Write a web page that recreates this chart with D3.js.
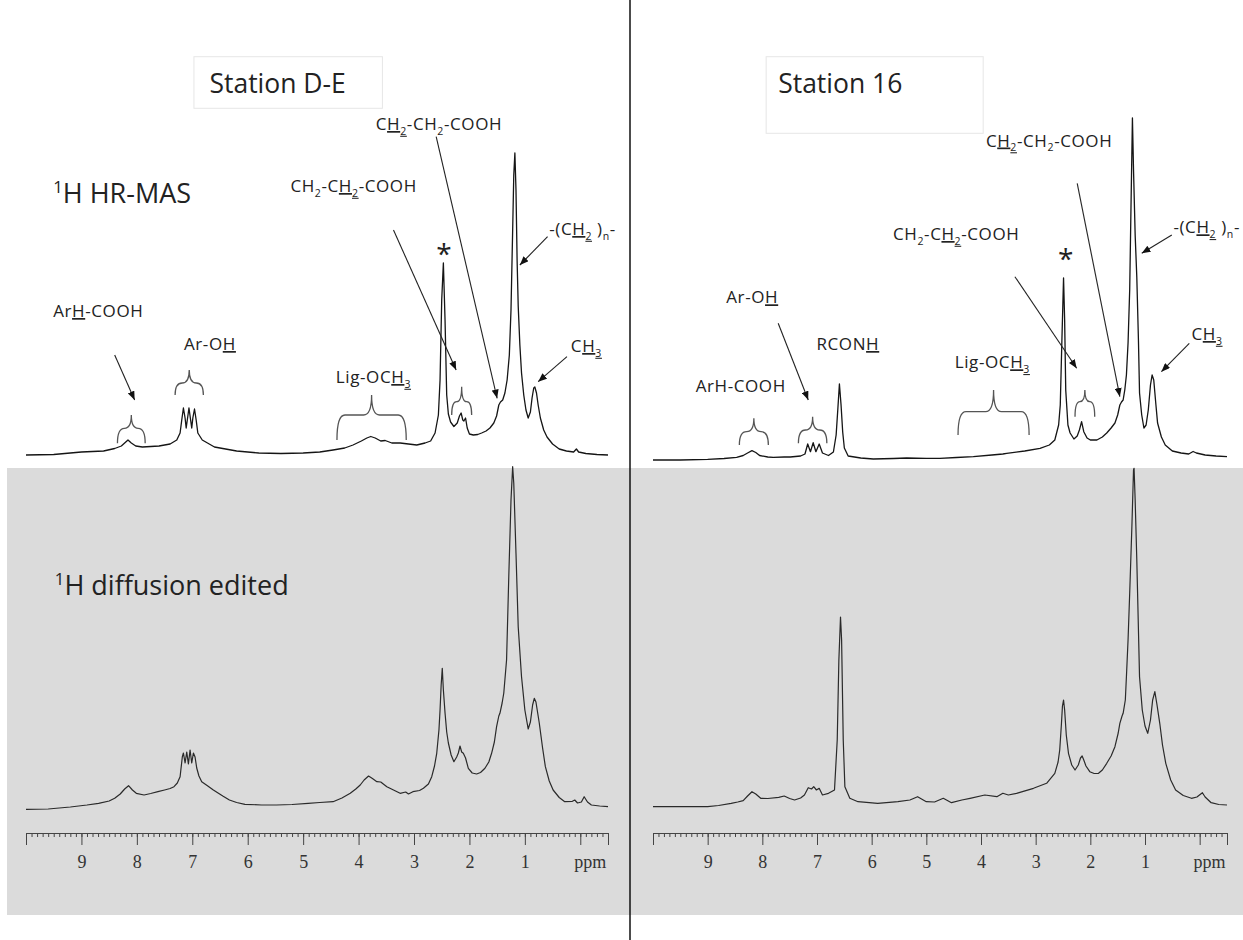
<!DOCTYPE html>
<html><head><meta charset="utf-8">
<script src="https://cdn.jsdelivr.net/npm/d3@7"></script>
<style>body{margin:0;background:#fff}svg{display:block}</style>
</head><body>
<svg id="chart" width="1243" height="940"></svg>
<script>
// ---------- DATA (ppm, intensity a.u.) ----------
const ppmTicks = [9,8,7,6,5,4,3,2,1];
const stations = ["Station D-E","Station 16"];
const rowLabels = ["^1^H HR-MAS","^1^H diffusion edited"];

const hrmasDE = [[10.0,1],[9.5,1.5],[9.0,4],[8.6,5],[8.4,7.5],[8.28,10],[8.2,14],[8.16,16],[8.1,13],[8.02,10],[7.9,9],[7.6,10],[7.4,12],[7.28,16],[7.22,23],[7.19,36],[7.16,48],[7.13,38],[7.11,28],[7.08,40],[7.06,48],[7.04,40],[7.01,28],[6.99,38],[6.96,47],[6.93,36],[6.9,23],[6.82,16],[6.6,9],[6.2,5],[5.8,3],[5.4,2.5],[5.0,3],[4.7,4],[4.46,6],[4.25,8],[4.1,11],[3.95,15],[3.85,18],[3.78,19.5],[3.7,18],[3.6,15],[3.52,15.5],[3.4,13],[3.25,13],[3.1,12],[2.95,11],[2.8,13],[2.7,15],[2.62,23],[2.56,41],[2.53,76],[2.5,156],[2.47,193],[2.44,136],[2.41,61],[2.38,42],[2.34,34],[2.28,29.5],[2.22,33],[2.18,40],[2.15,43],[2.12,36],[2.1,35],[2.07,38],[2.04,28],[2.0,22],[1.93,21],[1.85,21.5],[1.78,23],[1.7,25],[1.63,28],[1.56,33],[1.51,40],[1.47,51],[1.44,54],[1.4,56],[1.36,63],[1.32,76],[1.28,101],[1.25,146],[1.22,226],[1.2,281],[1.18,303],[1.16,266],[1.14,196],[1.12,150],[1.09,111],[1.06,83],[1.02,61],[0.98,46],[0.94,38],[0.9,44],[0.87,58],[0.84,68],[0.82,69],[0.79,63],[0.76,51],[0.72,38],[0.66,26],[0.6,19],[0.5,12],[0.38,7],[0.25,5],[0.12,4],[0.07,7],[0.03,4],[-0.1,2.5],[-0.3,1.5],[-0.5,1]];

const hrmas16 = [[10.0,1],[9.5,1],[9.0,1.7],[8.7,2.5],[8.47,3.7],[8.35,5.5],[8.27,8],[8.19,10.3],[8.12,8.5],[8.05,5.5],[7.9,4],[7.8,3.7],[7.6,4],[7.49,4],[7.3,5],[7.22,7],[7.17,17],[7.12,9.3],[7.07,18.3],[7.02,9.3],[6.96,17],[6.9,8],[6.79,5.5],[6.7,9],[6.65,26],[6.62,51],[6.59,77],[6.56,56],[6.53,29],[6.5,13],[6.43,5],[6.2,3],[5.97,2],[5.6,2.5],[5.36,3],[5.0,2.7],[4.75,2.7],[4.45,3.5],[4.14,4.3],[3.8,6],[3.6,7],[3.53,7.7],[3.2,10],[2.92,12.7],[2.75,16],[2.65,21],[2.58,36],[2.55,56],[2.52,121],[2.49,183],[2.47,141],[2.45,71],[2.41,36],[2.37,28],[2.3,22],[2.24,25],[2.2,31],[2.16,39.3],[2.12,29.3],[2.06,23],[2.0,21],[1.88,21],[1.78,24],[1.7,28],[1.62,33],[1.55,38],[1.5,46],[1.46,56],[1.43,59],[1.4,61],[1.37,71],[1.34,86],[1.31,118],[1.28,171],[1.26,241],[1.23,343],[1.21,291],[1.18,226],[1.15,184],[1.12,121],[1.1,68],[1.06,46],[1.02,33],[0.98,36],[0.94,51],[0.9,76],[0.87,86],[0.84,81],[0.8,56],[0.77,38],[0.7,24],[0.63,16],[0.5,10],[0.34,8],[0.2,7],[0.12,9.5],[0.06,8],[-0.1,6],[-0.3,5],[-0.5,4.3]];

const diffDE = [[10.0,0.7],[9.6,1],[9.2,3],[8.9,5],[8.69,6.7],[8.5,9],[8.4,11.7],[8.3,16],[8.22,21],[8.15,24.3],[8.08,20],[8.01,16.7],[7.87,15],[7.75,16.5],[7.62,18.3],[7.5,20],[7.4,21.5],[7.33,23.3],[7.27,27],[7.22,33.3],[7.18,53],[7.16,57],[7.13,47],[7.1,58],[7.07,46],[7.04,60],[7.01,47],[6.98,57],[6.95,53],[6.92,42],[6.88,34],[6.83,28.3],[6.72,24],[6.62,20],[6.45,14],[6.33,10],[6.2,7.5],[6.05,5.7],[5.75,5],[5.48,5],[5.2,5.5],[4.91,6.7],[4.7,7.5],[4.46,8.3],[4.3,12],[4.15,16.7],[4.05,21],[3.97,25],[3.9,30],[3.82,34],[3.75,31.5],[3.67,28.3],[3.6,28],[3.49,23.3],[3.37,20],[3.25,16.7],[3.15,18],[3.1,16],[3.02,18.3],[2.9,19.5],[2.83,21.7],[2.74,26],[2.68,33.3],[2.63,44],[2.59,56.7],[2.55,80],[2.53,100],[2.51,125],[2.49,141.7],[2.47,120],[2.44,97],[2.41,78],[2.38,67],[2.33,55],[2.28,48.3],[2.23,53],[2.2,57],[2.17,64],[2.14,58],[2.11,56.7],[2.07,52],[2.02,41.7],[1.95,37],[1.87,36],[1.8,37.5],[1.72,41.7],[1.65,48],[1.6,56.7],[1.55,68],[1.51,83.3],[1.47,94],[1.45,96.7],[1.41,107],[1.38,117],[1.33,150],[1.29,233.3],[1.25,310],[1.22,343.3],[1.2,326.7],[1.16,256.7],[1.12,183.3],[1.06,133.3],[1.0,100],[0.94,81],[0.9,88],[0.86,105],[0.83,111.7],[0.8,108],[0.74,87],[0.68,62],[0.63,43.3],[0.56,29],[0.49,20],[0.38,12.5],[0.28,8.3],[0.15,8.5],[0.1,10],[0.05,7],[-0.02,8],[-0.07,13.3],[-0.13,8],[-0.2,5],[-0.35,4],[-0.5,3.3]];

const diff16 = [[10.0,1.3],[9.0,1.3],[8.8,2.5],[8.57,4.7],[8.45,6],[8.35,7.3],[8.27,12],[8.19,16.3],[8.12,14],[8.03,9.7],[7.9,9.5],[7.7,10.7],[7.6,12],[7.5,9.5],[7.41,8],[7.3,10],[7.23,13],[7.16,20.3],[7.1,19],[7.06,21.3],[7.01,18],[6.96,19.7],[6.9,13],[6.79,14.7],[6.68,18],[6.63,68],[6.6,148],[6.57,191],[6.55,168],[6.52,68],[6.49,21.3],[6.4,9.7],[6.25,6.3],[5.89,4.7],[5.52,6.3],[5.3,8],[5.16,11.3],[5.0,6.3],[4.85,6],[4.69,9.7],[4.54,5.3],[4.35,8],[4.2,9.7],[3.93,13],[3.71,11.3],[3.6,14.7],[3.5,13],[3.35,14.7],[3.04,19.7],[2.8,24.7],[2.65,34.7],[2.59,46],[2.56,58],[2.53,83],[2.51,102],[2.49,108],[2.47,98],[2.44,73],[2.4,54.7],[2.34,43],[2.28,38],[2.22,43],[2.18,50],[2.15,52],[2.12,48],[2.08,42],[2.01,36.3],[1.93,34.5],[1.85,34.7],[1.78,38],[1.7,44.7],[1.62,52],[1.55,61.3],[1.49,75],[1.46,84.7],[1.42,92],[1.4,94.7],[1.36,108],[1.34,131.3],[1.31,168],[1.28,214.7],[1.24,281.3],[1.21,338],[1.2,339.7],[1.18,308],[1.15,248],[1.12,178],[1.1,131.3],[1.05,98],[1.0,82],[0.95,74.7],[0.9,88],[0.86,108],[0.82,116.3],[0.78,103],[0.73,84.7],[0.68,63],[0.62,44.7],[0.53,28],[0.44,18],[0.3,12.5],[0.15,9.7],[0.05,11],[-0.02,14],[-0.05,15.3],[-0.1,11],[-0.21,5.3],[-0.35,3.5],[-0.5,3]];

// annotations in data units (ppm, a.u.)
const labelsDE = [
  ["C_H~2~_-CH~2~-COOH",3.69,326],["CH~2~-C_H~2~_-COOH",5.23,264],["-(C_H~2~_ )~n~-",0.56,221],
  ["Ar_H_-COOH",9.51,139],["Ar-O_H_",7.15,106],["Lig-OC_H~3~_",4.41,73],["C_H~3~_",0.17,104]];
const labels16 = [
  ["C_H~2~_-CH~2~-COOH",3.91,314.5],["CH~2~-C_H~2~_-COOH",5.61,221],["-(C_H~2~_ )~n~-",0.48,227.7],
  ["Ar-O_H_",8.66,157.7],["RCON_H_",7.01,111],["ArH-COOH",9.22,69.3],["Lig-OC_H~3~_",4.48,92.7],["C_H~3~_",0.15,121]];
const starPos = [[2.46,192],[2.45,192]];
const arrowsDE = [[8.40,101,8.04,56],[3.37,226,2.24,86],[2.60,319.3,1.50,57.7],[0.59,219.3,1.09,191],[0.24,99.3,0.76,74.3]];
const arrows16 = [[7.71,137.7,7.16,61],[3.38,184.3,2.25,92.7],[2.24,277.7,1.46,64.3],[0.51,226,1.06,207.7],[0.19,117.7,0.70,89.3]];
const bracesDE = [[8.35,7.85,41,27.7,12.7],[7.31,6.80,86,73,61],[4.39,3.14,61,41,16],[2.32,1.96,69.3,54.3,41]];
const braces16 = [[8.42,7.89,42.7,29.3,16],[7.34,6.82,44.3,31,17.7],[4.42,3.12,71,49.3,26],[2.28,1.92,71,59.3,44.3]];
const titleBoxes = [[6.97,3.57,399.3,347.7,6.69,363],[7.93,3.96,404.3,327.7,7.71,367.7]];
const rowLabelPos = [[9.51,253],[9.48,215]];

// ---------- DRAW ----------
const svg = d3.select("#chart");
const FONT = "'Open Sans', 'Noto Sans', sans-serif";

svg.append("rect").attr("x",7).attr("y",468).attr("width",1236).attr("height",447).attr("fill","#dbdbdb");

const xs = [
  d3.scaleLinear().domain([10,-0.5]).range([26,608]),
  d3.scaleLinear().domain([10,-0.5]).range([653,1227])
];
const yTop = [
  d3.scaleLinear().domain([0,340]).range([456,116]),
  d3.scaleLinear().domain([0,340]).range([461,121])
];
const yBot = [
  d3.scaleLinear().domain([0,345]).range([810,465]),
  d3.scaleLinear().domain([0,345]).range([808,463])
];

const defs = svg.append("defs");
defs.append("marker").attr("id","ah").attr("viewBox","0 0 10 8").attr("refX",10).attr("refY",4)
  .attr("markerWidth",9).attr("markerHeight",7).attr("markerUnits","userSpaceOnUse").attr("orient","auto")
  .append("path").attr("d","M0,0 L10,4 L0,8 Z").attr("fill","#111");

function rich(g, markup, x, y, size, anchor, extra) {
  const t = g.append("text").attr("x",x).attr("y",y).attr("font-size",size)
    .attr("font-family",FONT).attr("fill","#222").attr("text-anchor",anchor||"start");
  if (extra) extra(t);
  let u=false, sub=false, sup=false, buf="", cur=0;
  const flush = () => {
    if (!buf) return;
    const want = sub ? size*0.28 : (sup ? -size*0.38 : 0);
    const ts = t.append("tspan").text(buf).attr("dy", want-cur);
    cur = want;
    if (sub||sup) ts.attr("font-size", size*0.62);
    if (u) ts.style("text-decoration","underline");
    buf="";
  };
  for (const ch of markup) {
    if (ch==="_") { flush(); u=!u; }
    else if (ch==="~") { flush(); sub=!sub; }
    else if (ch==="^") { flush(); sup=!sup; }
    else buf+=ch;
  }
  flush();
  return t;
}

const lineGen = (x,y) => d3.line().x(d=>x(d[0])).y(d=>y(d[1]));

[0,1].forEach(i => {
  const x = xs[i], yt = yTop[i], yb = yBot[i];
  const g = svg.append("g");
  // title box
  const tb = titleBoxes[i];
  g.append("rect").attr("x",x(tb[0])).attr("y",yt(tb[2])).attr("width",x(tb[1])-x(tb[0]))
    .attr("height",yt(tb[3])-yt(tb[2])).attr("fill","#fff").attr("stroke","#e6e6e6");
  rich(g, stations[i], x(tb[4]), yt(tb[5]), 26.5, "start");

  // spectra
  g.append("path").datum(i===0?hrmasDE:hrmas16).attr("d",lineGen(x,yt))
    .attr("fill","none").attr("stroke","#151515").attr("stroke-width",1.3).attr("stroke-linejoin","round");
  g.append("path").datum(i===0?diffDE:diff16).attr("d",lineGen(x,yb))
    .attr("fill","none").attr("stroke","#2a2a2a").attr("stroke-width",1.2).attr("stroke-linejoin","round");

  // braces
  (i===0?bracesDE:braces16).forEach(b => {
    const x1=x(b[0]), x2=x(b[1]), xm=(x1+x2)/2, yt1=yt(b[2]), yh=yt(b[3]), ye=yt(b[4]);
    const r = Math.min(8,(x2-x1)/4);
    const p = `M${x1},${ye} Q${x1},${yh} ${x1+r},${yh} L${xm-r},${yh} Q${xm},${yh} ${xm},${yt1} Q${xm},${yh} ${xm+r},${yh} L${x2-r},${yh} Q${x2},${yh} ${x2},${ye}`;
    g.append("path").attr("d",p).attr("fill","none").attr("stroke","#555").attr("stroke-width",1.3);
  });

  // arrows
  g.selectAll("line.arr").data(i===0?arrowsDE:arrows16).join("line").attr("class","arr")
    .attr("x1",d=>x(d[0])).attr("y1",d=>yt(d[1])).attr("x2",d=>x(d[2])).attr("y2",d=>yt(d[3]))
    .attr("stroke","#222").attr("stroke-width",1.1).attr("marker-end","url(#ah)");

  // labels
  (i===0?labelsDE:labels16).forEach(l => {
    rich(g, l[0], x(l[1]), yt(l[2]), 17, "start", t=>t.attr("letter-spacing","0.6px"));
  });
  g.append("text").attr("x",x(starPos[i][0])).attr("y",yt(starPos[i][1])).attr("text-anchor","middle")
    .attr("font-family",FONT).attr("font-size",28).attr("fill","#222").text("*");

  // axis
  const axY = 833;
  const minor = d3.axisBottom(x).tickValues(d3.range(-5,101).map(k=>k/10)).tickSize(4).tickSizeOuter(0).tickFormat("");
  const major = d3.axisBottom(x).tickValues([0].concat(ppmTicks)).tickSize(12).tickSizeOuter(12).tickPadding(10)
    .tickFormat(d => d===0 ? "" : d3.format("d")(d));
  const ga = g.append("g").attr("transform",`translate(0,${axY})`).call(minor);
  const gb = g.append("g").attr("transform",`translate(0,${axY})`).call(major);
  [ga,gb].forEach(s => { s.select(".domain").attr("stroke","#444"); s.selectAll(".tick line").attr("stroke","#444"); });
  gb.selectAll(".tick text").attr("font-family","'Liberation Serif', serif").attr("font-size",18).attr("fill","#333");
  g.append("text").attr("x",x(-0.18)).attr("y",axY+35).attr("text-anchor","middle")
    .attr("font-family","'Liberation Serif', serif").attr("font-size",18).attr("fill","#333").text("ppm");
});

// row labels
rich(svg, rowLabels[0], xs[0](rowLabelPos[0][0]), yTop[0](rowLabelPos[0][1]), 27, "start");
rich(svg, rowLabels[1], xs[0](rowLabelPos[1][0]), yBot[0](rowLabelPos[1][1]), 27, "start");

// divider
svg.append("line").attr("x1",630).attr("x2",630).attr("y1",0).attr("y2",940).attr("stroke","#111").attr("stroke-width",1.5);
</script>
</body></html>
